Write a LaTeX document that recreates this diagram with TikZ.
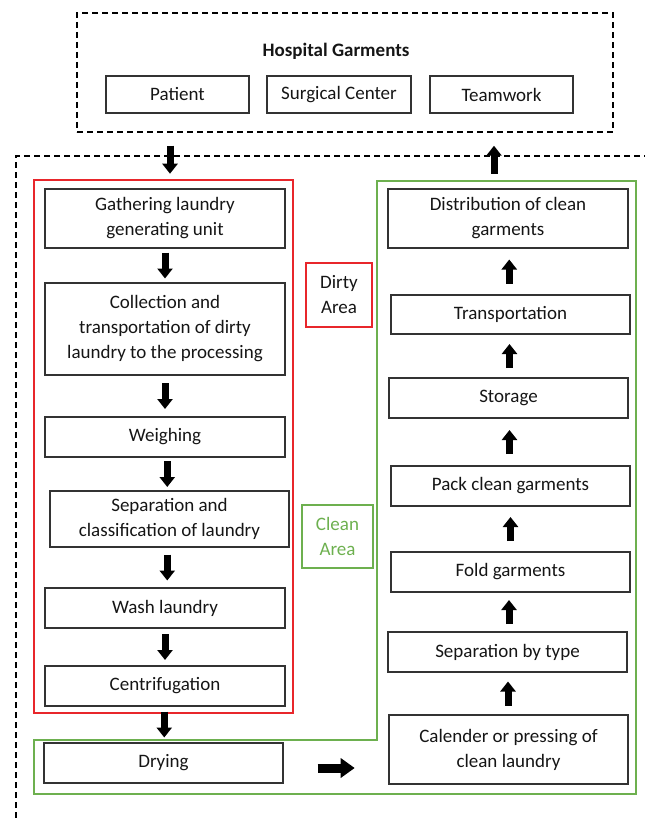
\documentclass[tikz,border=0pt]{standalone}
\usepackage{fontspec}
\setmainfont{Carlito}
\usetikzlibrary{arrows.meta,calc}
\definecolor{boxgray}{HTML}{333333}
\definecolor{txtgray}{HTML}{151515}
\definecolor{dirtyred}{HTML}{E8262B}
\definecolor{cleangreen}{HTML}{6DB04F}
\tikzset{
  procbox/.style={draw=boxgray, line width=1.4pt, align=center, inner sep=0pt,
    text=txtgray, font=\fontsize{19}{25}\selectfont},
  dashline/.style={draw=black, line width=1.5pt, dash pattern=on 6pt off 4pt},
  redline/.style={draw=dirtyred, line width=1.6pt},
  greenline/.style={draw=cleangreen, line width=1.6pt},
  blockarrow/.style={draw=black, line width=7pt, -{Triangle[length=10pt,width=15pt]}},
  bigarrow/.style={draw=black, line width=9pt, -{Triangle[length=14pt,width=19pt]}}
}
\newcommand\downarr[2]{\draw[blockarrow] ($(#1.south)!0.5!(#2.north)+(0,-13)$) -- ($(#1.south)!0.5!(#2.north)+(0,13)$);}
\newcommand\uparr[2]{\draw[blockarrow] ($(#1.north)!0.5!(#2.south)+(0,12)$) -- ($(#1.north)!0.5!(#2.south)+(0,-12)$);}
\begin{document}
\begin{tikzpicture}[x=1pt,y=-1pt]
\useasboundingbox (0,0) rectangle (645,818);
% top group
\node[dashline, minimum width=536pt, minimum height=119pt] (hg) at (345,72.5) {};
\node[font=\fontsize{19}{22}\selectfont\bfseries, text=txtgray] (hgt) at (336,51) {Hospital Garments};
\node[procbox, minimum width=143pt, minimum height=37pt] (patient) at (177.5,94.5) {Patient};
\node[procbox, minimum width=144pt, minimum height=37pt] (surg) at (339,94.5) {Surgical Center};
\node[procbox, minimum width=143pt, minimum height=37pt] (team) at (501.5,94.5) {Teamwork};
% outer dashed frame
\draw[dashline] (16,818) -- (16,156) -- (645,156);
% dirty area frame
\node[redline, minimum width=259pt, minimum height=533pt] (dirty) at (163.5,446.5) {};
% clean area frame
\draw[greenline] (377,181) -- (636,181) -- (636,794) -- (34,794) -- (34,740) -- (377,740) -- cycle;
% labels
\node[redline, minimum width=66pt, minimum height=64pt, align=center, text=txtgray,
  font=\fontsize{19}{25}\selectfont] (dlab) at (339,295) {Dirty\\Area};
\node[greenline, minimum width=71pt, minimum height=63pt, align=center, text=cleangreen,
  font=\fontsize{19}{25}\selectfont] (clab) at (337.5,536.5) {Clean\\Area};
% left column
\node[procbox, minimum width=240pt, minimum height=59pt] (gather) at (165,218.5) {Gathering laundry\\generating unit};
\node[procbox, minimum width=240pt, minimum height=92pt] (collect) at (165,329) {Collection and\\transportation of dirty\\laundry to the processing};
\node[procbox, minimum width=240pt, minimum height=40pt] (weigh) at (165,437) {Weighing};
\node[procbox, minimum width=239pt, minimum height=56pt] (separ) at (169.5,519) {Separation and\\classification of laundry};
\node[procbox, minimum width=240pt, minimum height=40pt] (wash) at (165,608) {Wash laundry};
\node[procbox, minimum width=240pt, minimum height=40pt] (centri) at (165,686) {Centrifugation};
\node[procbox, minimum width=239pt, minimum height=40pt] (drying) at (163.5,763) {Drying};
% right column
\node[procbox, minimum width=240pt, minimum height=59pt] (distr) at (508,218.5) {Distribution of clean\\garments};
\node[procbox, minimum width=239pt, minimum height=39pt] (transp) at (510.5,314.5) {Transportation};
\node[procbox, minimum width=239pt, minimum height=40pt] (storage) at (508.5,398) {Storage};
\node[procbox, minimum width=239pt, minimum height=40pt] (pack) at (510.5,486) {Pack clean garments};
\node[procbox, minimum width=239pt, minimum height=40pt] (fold) at (510.5,572) {Fold garments};
\node[procbox, minimum width=239pt, minimum height=40pt] (septype) at (507.5,652) {Separation by type};
\node[procbox, minimum width=239pt, minimum height=69pt] (calender) at (508.5,749.5) {Calender or pressing of\\clean laundry};
% arrows
\draw[blockarrow] ($(hg.south)+(-175,13)$) -- ($(hg.south)+(-175,41)$);
\draw[blockarrow] ($(hg.south)+(149,41)$) -- ($(hg.south)+(149,13)$);
\downarr{gather}{collect}
\downarr{collect}{weigh}
\downarr{weigh}{separ}
\downarr{separ}{wash}
\downarr{wash}{centri}
\downarr{centri}{drying}
\draw[bigarrow] ($(drying.east)+(34,5)$) -- ($(drying.east)+(71,5)$);
\uparr{calender}{septype}
\uparr{septype}{fold}
\uparr{fold}{pack}
\uparr{pack}{storage}
\uparr{storage}{transp}
\uparr{transp}{distr}
\end{tikzpicture}
\end{document}
